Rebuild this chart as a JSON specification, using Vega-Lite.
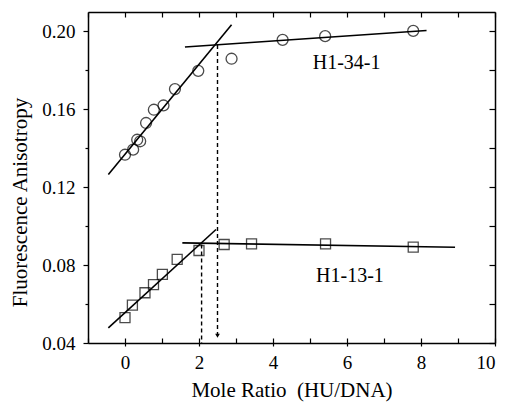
{
  "$schema": "https://vega.github.io/schema/vega-lite/v6.json",
  "autosize": {"type": "none"},
  "width": 407,
  "height": 331,
  "padding": {"left": 88, "top": 12, "right": 12, "bottom": 59},
  "background": "white",
  "config": {
    "view": {"stroke": null},
    "axis": {"grid": false, "domainColor": "black", "domainWidth": 1.5, "tickColor": "black", "tickWidth": 1.2, "labelFont": "Liberation Serif", "labelFontSize": 19, "labelColor": "black", "titleFont": "Liberation Serif", "titleFontSize": 21, "titleFontWeight": "normal", "titleColor": "black"}
  },
  "datasets": {
    "points": [
      {"sample": "H1-34-1", "ratio": 0.0, "anisotropy": 0.1367},
      {"sample": "H1-34-1", "ratio": 0.22, "anisotropy": 0.1393},
      {"sample": "H1-34-1", "ratio": 0.33, "anisotropy": 0.1444},
      {"sample": "H1-34-1", "ratio": 0.41, "anisotropy": 0.1436},
      {"sample": "H1-34-1", "ratio": 0.57, "anisotropy": 0.153},
      {"sample": "H1-34-1", "ratio": 0.78, "anisotropy": 0.1598},
      {"sample": "H1-34-1", "ratio": 1.04, "anisotropy": 0.162},
      {"sample": "H1-34-1", "ratio": 1.35, "anisotropy": 0.1704},
      {"sample": "H1-34-1", "ratio": 1.98, "anisotropy": 0.1798},
      {"sample": "H1-34-1", "ratio": 2.88, "anisotropy": 0.186},
      {"sample": "H1-34-1", "ratio": 4.26, "anisotropy": 0.1957},
      {"sample": "H1-34-1", "ratio": 5.41, "anisotropy": 0.1976},
      {"sample": "H1-34-1", "ratio": 7.79, "anisotropy": 0.2003},
      {"sample": "H1-13-1", "ratio": 0.0, "anisotropy": 0.053},
      {"sample": "H1-13-1", "ratio": 0.2, "anisotropy": 0.0595},
      {"sample": "H1-13-1", "ratio": 0.54, "anisotropy": 0.0658},
      {"sample": "H1-13-1", "ratio": 0.77, "anisotropy": 0.07},
      {"sample": "H1-13-1", "ratio": 1.01, "anisotropy": 0.0752},
      {"sample": "H1-13-1", "ratio": 1.41, "anisotropy": 0.0829},
      {"sample": "H1-13-1", "ratio": 2.0, "anisotropy": 0.0875},
      {"sample": "H1-13-1", "ratio": 2.68, "anisotropy": 0.0906},
      {"sample": "H1-13-1", "ratio": 3.42, "anisotropy": 0.0909},
      {"sample": "H1-13-1", "ratio": 5.42, "anisotropy": 0.0909},
      {"sample": "H1-13-1", "ratio": 7.79, "anisotropy": 0.0892}
    ],
    "fits": [
      {"fit": "a1", "ratio": -0.45, "anisotropy": 0.1265},
      {"fit": "a1", "ratio": 2.88, "anisotropy": 0.2034},
      {"fit": "a2", "ratio": 1.62, "anisotropy": 0.192},
      {"fit": "a2", "ratio": 8.15, "anisotropy": 0.2005},
      {"fit": "b1", "ratio": -0.45, "anisotropy": 0.0478},
      {"fit": "b1", "ratio": 2.46, "anisotropy": 0.0983},
      {"fit": "b2", "ratio": 1.55, "anisotropy": 0.0914},
      {"fit": "b2", "ratio": 8.92, "anisotropy": 0.0892}
    ],
    "drops": [
      {"drop": "d1", "ratio": 2.5, "anisotropy": 0.193},
      {"drop": "d1", "ratio": 2.5, "anisotropy": 0.0425},
      {"drop": "d2", "ratio": 2.07, "anisotropy": 0.0906},
      {"drop": "d2", "ratio": 2.07, "anisotropy": 0.04}
    ],
    "arrow": [{"ratio": 2.5, "anisotropy": 0.0437}],
    "labels": [
      {"label": "H1-34-1", "ratio": 5.99, "anisotropy": 0.1838},
      {"label": "H1-13-1", "ratio": 6.08, "anisotropy": 0.0744}
    ]
  },
  "resolve": {"scale": {"x": "independent", "y": "independent"}, "axis": {"x": "independent", "y": "independent"}},
  "layer": [
    {
      "data": {"name": "fits"},
      "mark": {"type": "line", "color": "black", "strokeWidth": 1.6},
      "encoding": {
        "x": {"field": "ratio", "type": "quantitative", "scale": {"domain": [-1, 10], "nice": false, "zero": false},
          "axis": {"orient": "bottom", "values": [0, 2, 4, 6, 8, 10], "tickSize": 3, "labelPadding": 7, "title": "Mole Ratio\u00a0\u00a0(HU/DNA)", "titleY": 53, "titleBaseline": "alphabetic"}},
        "y": {"field": "anisotropy", "type": "quantitative", "scale": {"domain": [0.04, 0.21], "nice": false, "zero": false},
          "axis": {"orient": "left", "values": [0.04, 0.08, 0.12, 0.16, 0.2], "format": ".2f", "tickSize": 5, "labelPadding": 8, "title": "Fluorescence Anisotropy", "titleX": -62, "titleY": 190, "titleAngle": -90, "titleAlign": "center", "titleBaseline": "alphabetic"}},
        "detail": {"field": "fit"}
      }
    },
    {
      "data": {"name": "drops"},
      "mark": {"type": "line", "color": "black", "strokeWidth": 1.4, "strokeDash": [4, 3]},
      "encoding": {
        "x": {"field": "ratio", "type": "quantitative", "scale": {"domain": [-1, 10], "nice": false, "zero": false},
          "axis": {"orient": "bottom", "values": [-1, 0, 1, 2, 3, 4, 5, 6, 7, 8, 9, 10], "tickSize": -5, "labels": false, "domain": false, "title": null}},
        "y": {"field": "anisotropy", "type": "quantitative", "scale": {"domain": [0.04, 0.21], "nice": false, "zero": false},
          "axis": {"orient": "left", "values": [0.06, 0.1, 0.14, 0.18], "tickSize": 3, "labels": false, "domain": false, "title": null}},
        "detail": {"field": "drop"}
      }
    },
    {
      "data": {"name": "points"},
      "mark": {"type": "point", "filled": false, "color": "black", "strokeWidth": 1.3},
      "encoding": {
        "x": {"field": "ratio", "type": "quantitative", "scale": {"domain": [-1, 10], "nice": false, "zero": false},
          "axis": {"orient": "top", "values": [-1, 0, 1, 2, 3, 4, 5, 6, 7, 8, 9, 10], "tickSize": -5, "labels": false, "title": null}},
        "y": {"field": "anisotropy", "type": "quantitative", "scale": {"domain": [0.04, 0.21], "nice": false, "zero": false},
          "axis": {"orient": "right", "values": [0.04, 0.06, 0.08, 0.1, 0.12, 0.14, 0.16, 0.18, 0.2], "tickSize": -6, "labels": false, "title": null}},
        "shape": {"field": "sample", "type": "nominal", "scale": {"domain": ["H1-34-1", "H1-13-1"], "range": ["circle", "square"]}, "legend": null},
        "size": {"field": "sample", "type": "nominal", "scale": {"domain": ["H1-34-1", "H1-13-1"], "range": [120, 100]}, "legend": null}
      }
    },
    {
      "data": {"name": "arrow"},
      "mark": {"type": "point", "shape": "triangle-down", "filled": true, "color": "black", "size": 22, "opacity": 1},
      "encoding": {
        "x": {"field": "ratio", "type": "quantitative", "scale": {"domain": [-1, 10], "nice": false, "zero": false}, "axis": null},
        "y": {"field": "anisotropy", "type": "quantitative", "scale": {"domain": [0.04, 0.21], "nice": false, "zero": false}, "axis": null}
      }
    },
    {
      "data": {"name": "labels"},
      "mark": {"type": "text", "font": "Liberation Serif", "fontSize": 20, "color": "black", "align": "center", "baseline": "middle"},
      "encoding": {
        "x": {"field": "ratio", "type": "quantitative", "scale": {"domain": [-1, 10], "nice": false, "zero": false}, "axis": null},
        "y": {"field": "anisotropy", "type": "quantitative", "scale": {"domain": [0.04, 0.21], "nice": false, "zero": false}, "axis": null},
        "text": {"field": "label"}
      }
    }
  ]
}
